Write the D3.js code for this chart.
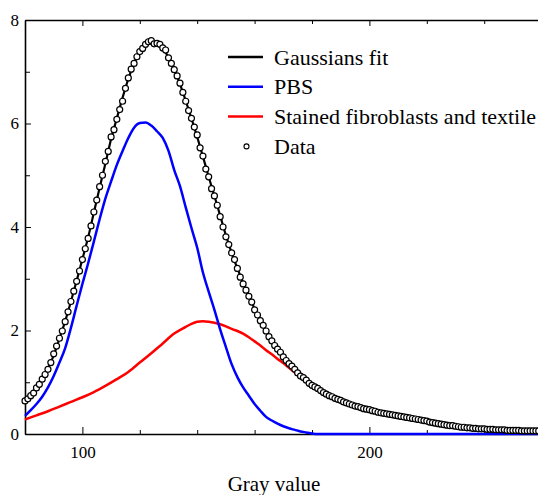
<!DOCTYPE html>
<html>
<head>
<meta charset="utf-8">
<script src="https://cdn.jsdelivr.net/npm/d3@7"></script>
<style>
  body { margin: 0; background: #fff; }
  svg { display: block; }
  text { font-family: "Liberation Serif", "Times New Roman", serif; fill: #000; }
</style>
</head>
<body>
<svg id="chart" width="538" height="495"></svg>
<script>
// measured histogram (circles), one point per gray value
var dataGray = [
  80, 81, 82, 83, 84, 85, 86, 87, 88, 89,
  90, 91, 92, 93, 94, 95, 96, 97, 98, 99,
  100, 101, 102, 103, 104, 105, 106, 107, 108, 109,
  110, 111, 112, 113, 114, 115, 116, 117, 118, 119,
  120, 121, 122, 123, 124, 125, 126, 127, 128, 129,
  130, 131, 132, 133, 134, 135, 136, 137, 138, 139,
  140, 141, 142, 143, 144, 145, 146, 147, 148, 149,
  150, 151, 152, 153, 154, 155, 156, 157, 158, 159,
  160, 161, 162, 163, 164, 165, 166, 167, 168, 169,
  170, 171, 172, 173, 174, 175, 176, 177, 178, 179,
  180, 181, 182, 183, 184, 185, 186, 187, 188, 189,
  190, 191, 192, 193, 194, 195, 196, 197, 198, 199,
  200, 201, 202, 203, 204, 205, 206, 207, 208, 209,
  210, 211, 212, 213, 214, 215, 216, 217, 218, 219,
  220, 221, 222, 223, 224, 225, 226, 227, 228, 229,
  230, 231, 232, 233, 234, 235, 236, 237, 238, 239,
  240, 241, 242, 243, 244, 245, 246, 247, 248, 249,
  250, 251, 252, 253, 254, 255, 256, 257, 258, 259
];
var dataValue = [
  0.64, 0.68, 0.74, 0.79, 0.89, 0.96, 1.06, 1.15, 1.25, 1.38,
  1.55, 1.70, 1.85, 1.99, 2.17, 2.36, 2.56, 2.76, 2.95, 3.15,
  3.37, 3.58, 3.78, 4.02, 4.29, 4.52, 4.78, 5.00, 5.27, 5.46,
  5.74, 5.88, 6.08, 6.27, 6.43, 6.68, 6.88, 7.05, 7.16, 7.29,
  7.39, 7.45, 7.53, 7.58, 7.60, 7.54, 7.55, 7.53, 7.46, 7.42,
  7.27, 7.16, 7.04, 6.92, 6.78, 6.60, 6.43, 6.25, 6.10, 5.93,
  5.78, 5.53, 5.37, 5.12, 4.97, 4.74, 4.60, 4.42, 4.20, 4.00,
  3.81, 3.66, 3.50, 3.37, 3.20, 3.03, 2.90, 2.78, 2.66, 2.55,
  2.40, 2.30, 2.19, 2.10, 1.99, 1.88, 1.80, 1.71, 1.64, 1.58,
  1.49, 1.42, 1.36, 1.31, 1.25, 1.18, 1.12, 1.09, 1.04, 0.98,
  0.94, 0.91, 0.88, 0.84, 0.80, 0.77, 0.74, 0.72, 0.69, 0.67,
  0.65, 0.62, 0.60, 0.58, 0.56, 0.54, 0.53, 0.51, 0.49, 0.48,
  0.47, 0.45, 0.44, 0.42, 0.41, 0.40, 0.39, 0.38, 0.37, 0.36,
  0.35, 0.34, 0.33, 0.32, 0.31, 0.30, 0.29, 0.28, 0.27, 0.26,
  0.25, 0.23, 0.22, 0.21, 0.20, 0.19, 0.18, 0.17, 0.16, 0.16,
  0.15, 0.14, 0.13, 0.13, 0.12, 0.12, 0.11, 0.11, 0.10, 0.10,
  0.10, 0.09, 0.09, 0.09, 0.08, 0.08, 0.08, 0.08, 0.07, 0.07,
  0.07, 0.07, 0.07, 0.06, 0.06, 0.06, 0.06, 0.06, 0.06, 0.06
];

// sum of the two gaussians
var fitGray = [80, 82, 84, 86, 88, 90, 92, 94, 96, 98, 100, 102, 104, 106, 108, 110,
  112, 114, 116, 118, 120, 122, 124, 126, 128, 130, 132, 134, 136, 138, 140, 142,
  144, 146, 148, 150, 152, 154, 156, 158, 160, 162, 164, 166, 168, 170, 172, 174,
  176, 178, 180, 182, 184, 186, 188, 190, 192, 194, 196, 198, 200, 204, 208, 212,
  216, 220, 224, 228, 232, 236, 240, 244, 248, 252, 256, 260];
var fitValue = [0.66, 0.74, 0.88, 1.05, 1.26, 1.52, 1.84, 2.18, 2.56, 2.96, 3.38, 3.80, 4.28, 4.76, 5.22, 5.70,
  6.10, 6.50, 6.86, 7.16, 7.38, 7.52, 7.58, 7.55, 7.45, 7.28, 7.04, 6.76, 6.44, 6.10, 5.74, 5.36,
  4.97, 4.60, 4.22, 3.84, 3.50, 3.20, 2.92, 2.66, 2.42, 2.20, 1.99, 1.80, 1.63, 1.48, 1.36, 1.25,
  1.14, 1.04, 0.95, 0.87, 0.80, 0.74, 0.69, 0.64, 0.60, 0.56, 0.53, 0.50, 0.47, 0.41, 0.37, 0.33,
  0.29, 0.25, 0.20, 0.16, 0.13, 0.11, 0.10, 0.08, 0.07, 0.07, 0.06, 0.06];

var pbsGray = [80, 82, 84, 86, 88, 90, 92, 94, 96, 98, 100, 102, 104, 106, 108, 110,
  112, 114, 116, 118, 120, 122, 124, 126, 128, 130, 132, 134, 136, 138, 140, 142,
  144, 146, 148, 150, 152, 154, 156, 158, 160, 162, 164, 166, 168, 170, 172, 174,
  176, 178, 180, 182, 200, 220, 240, 260];
var pbsValue = [0.35, 0.46, 0.58, 0.72, 0.90, 1.12, 1.38, 1.66, 2.05, 2.48, 2.90, 3.30, 3.72, 4.15, 4.55, 4.88,
  5.20, 5.47, 5.72, 5.92, 6.01, 6.02, 5.96, 5.85, 5.72, 5.47, 5.10, 4.79, 4.38, 3.98, 3.60, 3.12,
  2.75, 2.40, 2.02, 1.68, 1.35, 1.10, 0.90, 0.74, 0.58, 0.45, 0.33, 0.26, 0.20, 0.15, 0.11, 0.08,
  0.05, 0.03, 0.01, 0, 0, 0, 0, 0];

var stainedGray = [80, 84, 88, 92, 96, 100, 104, 108, 112, 116, 120, 124, 128, 132, 136, 138,
  140, 142, 144, 146, 148, 150, 152, 154, 156, 158, 160, 162, 164, 166, 168, 170,
  172, 174, 176, 178, 180, 184, 188, 192, 196, 200, 208, 216, 224, 232, 240, 248, 260];
var stainedValue = [0.28, 0.36, 0.44, 0.53, 0.62, 0.71, 0.81, 0.93, 1.06, 1.20, 1.38, 1.56, 1.75, 1.94, 2.07, 2.13,
  2.17, 2.18, 2.17, 2.15, 2.12, 2.08, 2.03, 1.99, 1.94, 1.87, 1.79, 1.71, 1.62, 1.54, 1.45, 1.37,
  1.28, 1.19, 1.10, 1.02, 0.94, 0.80, 0.69, 0.60, 0.53, 0.47, 0.37, 0.29, 0.20, 0.13, 0.10, 0.07, 0.06];

var legendNames = ['Gaussians fit', 'PBS', 'Stained fibroblasts and textile', 'Data'];
var legendColors = ['#000', '#0000ff', '#ff0000', '#000'];

var xMajor = [100, 200];
var xTicks = [80, 100, 120, 140, 160, 180, 200, 220, 240, 260];
var yTicks = [0, 1, 2, 3, 4, 5, 6, 7, 8];

(function() {
  var svg = d3.select('#chart');

  var plotLeft = 25, plotRight = 541.6, plotTop = 20, plotBottom = 434;

  var x = d3.scaleLinear().domain([80, 260]).range([plotLeft, plotRight]);
  var y = d3.scaleLinear().domain([0, 8]).range([plotBottom, plotTop]);

  function zip(xs, ys) {
    return xs.map(function(g, i) { return { g: g, v: ys[i] }; });
  }

  // axes, ticks point inward
  var bottomAxis = svg.append('g')
    .attr('transform', 'translate(0,' + plotBottom + ')')
    .call(d3.axisBottom(x).tickValues(xTicks).tickSizeOuter(0).tickSizeInner(-4).tickPadding(12)
      .tickFormat(function(d) { return xMajor.indexOf(d) >= 0 ? d : ''; }));
  bottomAxis.selectAll('.tick line')
    .attr('y2', function(d) { return xMajor.indexOf(d) >= 0 ? -7 : -4; });

  var topAxis = svg.append('g')
    .attr('transform', 'translate(0,' + plotTop + ')')
    .call(d3.axisTop(x).tickValues(xTicks).tickSizeOuter(0).tickSizeInner(-4).tickFormat(''));
  topAxis.selectAll('.tick line')
    .attr('y2', function(d) { return xMajor.indexOf(d) >= 0 ? 6 : 4; });

  var leftAxis = svg.append('g')
    .attr('transform', 'translate(' + plotLeft + ',0)')
    .call(d3.axisLeft(y).tickValues(yTicks).tickSizeOuter(0).tickSizeInner(-6).tickPadding(6)
      .tickFormat(function(d) { return d % 2 ? '' : d; }));
  leftAxis.selectAll('.tick line')
    .attr('x2', function(d) { return d % 2 ? 5 : 6; });

  svg.selectAll('.domain').attr('stroke', '#000').attr('stroke-width', 1.6);
  svg.selectAll('.tick line').attr('stroke', '#000').attr('stroke-width', 1);
  svg.selectAll('.tick text')
    .style('font-family', '"Liberation Serif", serif')
    .style('font-size', '17px')
    .attr('fill', '#000');

  // curves
  var line = d3.line()
    .x(function(d) { return x(d.g); })
    .y(function(d) { return y(d.v); })
    .curve(d3.curveMonotoneX);

  svg.append('path')
    .datum(zip(stainedGray, stainedValue))
    .attr('d', line)
    .attr('fill', 'none')
    .attr('stroke', '#ff0000')
    .attr('stroke-width', 2.5);

  svg.append('path')
    .datum(zip(pbsGray, pbsValue))
    .attr('d', line)
    .attr('fill', 'none')
    .attr('stroke', '#0000ff')
    .attr('stroke-width', 2.5);

  svg.append('path')
    .datum(zip(fitGray, fitValue))
    .attr('d', line)
    .attr('fill', 'none')
    .attr('stroke', '#000')
    .attr('stroke-width', 2.2);

  svg.append('g')
    .selectAll('circle')
    .data(zip(dataGray, dataValue))
    .enter()
    .append('circle')
    .attr('cx', function(d) { return x(d.g); })
    .attr('cy', function(d) { return y(d.v); })
    .attr('r', 3)
    .attr('fill', '#fff')
    .attr('stroke', '#000')
    .attr('stroke-width', 1.2);

  // legend
  var legend = svg.append('g').attr('transform', 'translate(228,57)');
  var item = legend.selectAll('g')
    .data(legendNames)
    .enter()
    .append('g')
    .attr('transform', function(d, i) { return 'translate(0,' + (i * 29.8) + ')'; });

  item.filter(function(d, i) { return i < 3; })
    .append('line')
    .attr('x1', 0).attr('x2', 35)
    .attr('stroke', function(d, i) { return legendColors[i]; })
    .attr('stroke-width', 2.5);

  item.filter(function(d, i) { return i === 3; })
    .append('circle')
    .attr('cx', 18.5)
    .attr('r', 2.5)
    .attr('fill', '#fff')
    .attr('stroke', '#000')
    .attr('stroke-width', 1.1);

  item.append('text')
    .attr('x', 46)
    .attr('y', 7.5)
    .style('font-size', '22px')
    .text(function(d) { return d; });

  svg.append('text')
    .attr('x', 274)
    .attr('y', 491)
    .attr('text-anchor', 'middle')
    .style('font-size', '21px')
    .text('Gray value');
})();
</script>
</body>
</html>
